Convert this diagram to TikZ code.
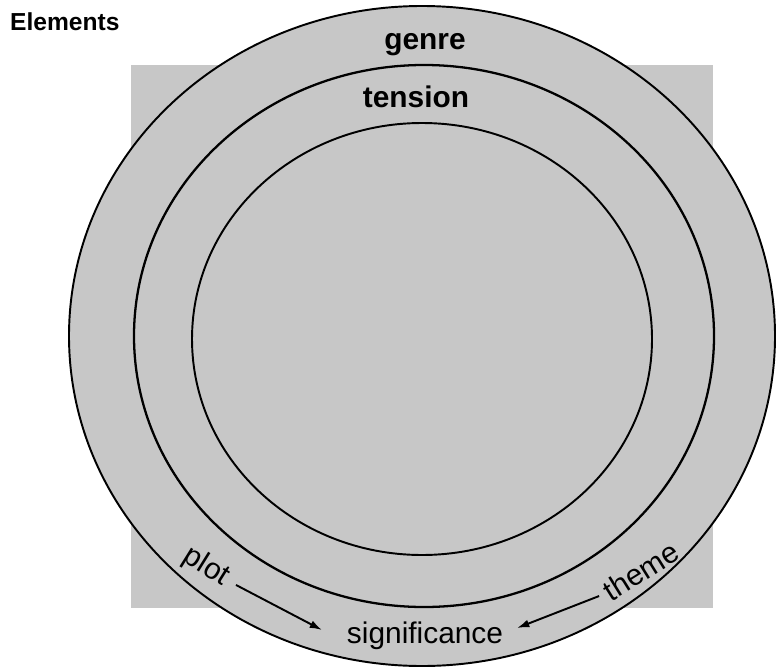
\documentclass[tikz,border=0pt]{standalone}
\usepackage{fontspec}
\setmainfont{Liberation Sans}
\usepackage{xcolor}
\usepackage{tikz}
\usetikzlibrary{arrows.meta, positioning}

\definecolor{paper}{gray}{0.78}

\begin{document}
\begin{tikzpicture}[x=0.02cm, y=0.02cm,
    ring/.style={draw, line width=1.1pt},
    ringtext/.style={font=\fontsize{17}{20}\selectfont\bfseries, anchor=base},
    flowtext/.style={font=\fontsize{17}{20}\selectfont, inner sep=1pt},
    flow/.style={-{Latex[length=7pt, width=4.5pt]}, line width=1.1pt}]
          \useasboundingbox (0,0) rectangle (776,667);

          \fill[paper] (131,59) rectangle (713,602);
          \draw[ring, fill=paper] (422,331) ellipse [x radius=353, y radius=330];
          \draw[ring, line width=1.3pt] (424,331) ellipse [x radius=290, y radius=271];
          \draw[ring] (422,328) ellipse [x radius=230, y radius=216];

          \node[anchor=west, font=\fontsize{14}{16}\selectfont\bfseries] (title) at (4,645) {Elements};
          \node[ringtext] (genre) at (425,617) {genre};
          \node[ringtext] (tension) at (416,560) {tension};
          \node[flowtext, anchor=base] (significance) at (425,24) {significance};
          \node[flowtext, rotate=-32] (plot) at (206,100) {plot};
          \node[flowtext, rotate=32] (theme) at (641,96) {theme};

          \coordinate (plot-tip) at (322,37);
          \coordinate (theme-tip) at (517,39);
          \draw[flow, shorten <=5pt] (plot.east) -- (plot-tip);
          \draw[flow, shorten <=3pt] (theme.west) -- (theme-tip);
        \end{tikzpicture}
\end{document}
